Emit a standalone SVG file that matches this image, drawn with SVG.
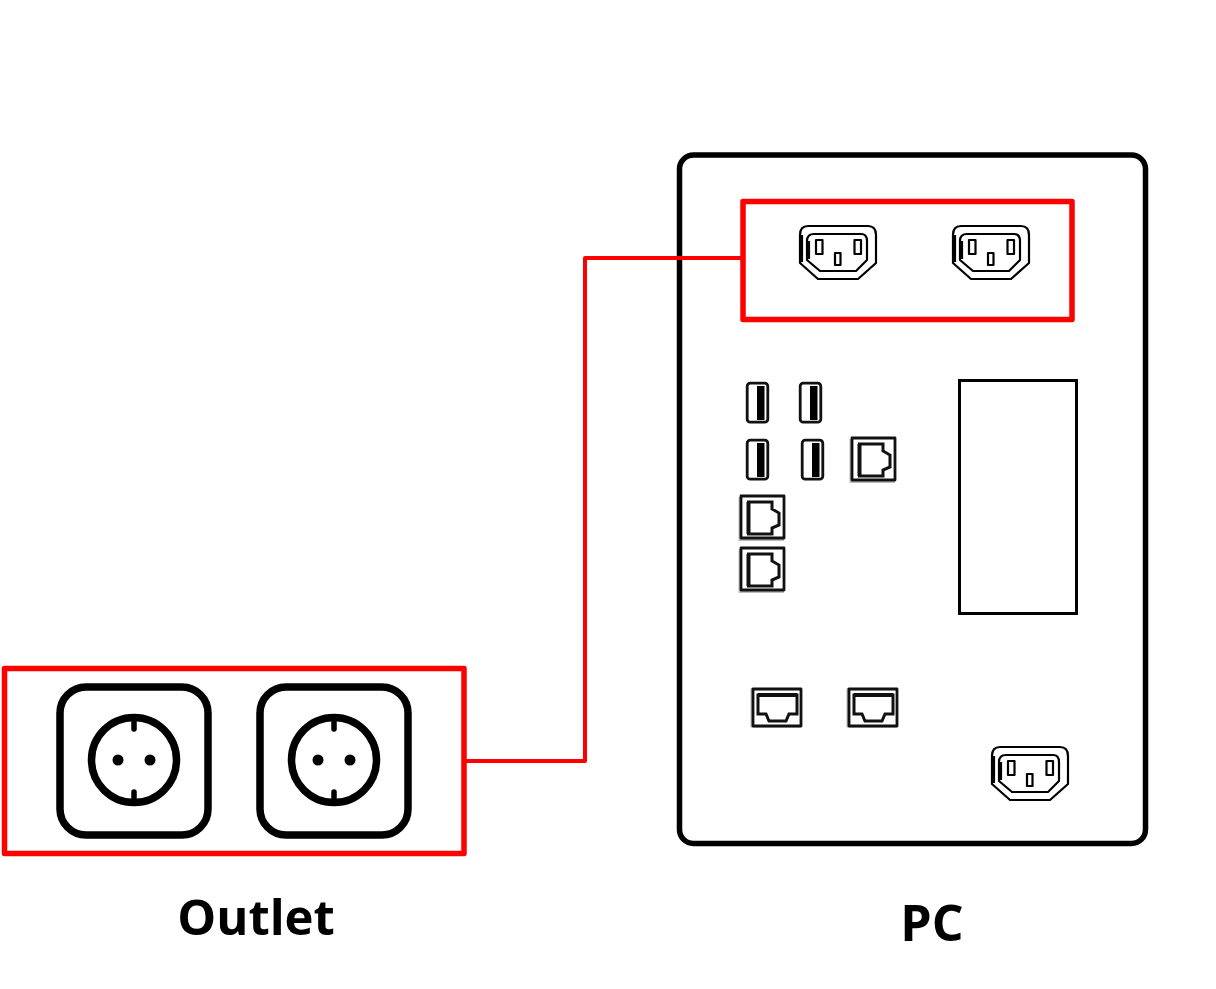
<svg xmlns="http://www.w3.org/2000/svg" width="1216" height="989" viewBox="0 0 1216 989">
<style>
.bg{fill:#fff}
.red{fill:none;stroke:#f00;stroke-width:5.500;stroke-linejoin:round}
.wire{fill:none;stroke:#f00;stroke-width:4;stroke-linejoin:round}
.pc{fill:#fff;stroke:#000;stroke-width:5.500}
.panel{fill:#fff;stroke:#000;stroke-width:3}
.thin{fill:none;stroke:#000;stroke-width:2.200;stroke-linejoin:round}
.frame{fill:none;stroke:#000;stroke-width:7.500}
.ring{fill:none;stroke:#000;stroke-width:7.500}
.tick{stroke:#000;stroke-width:5.500;stroke-linecap:round}
.port{fill:#fff;stroke:#111;stroke-width:2.800;stroke-linejoin:round}
.inner{fill:none;stroke:#111;stroke-width:3;stroke-linejoin:miter}
.shade{fill:#bbb}
.lbl{font-family:"Open Sans","Noto Sans",sans-serif;font-weight:700;font-size:50px;fill:#000;text-anchor:middle}
</style>
<defs>
<g id="iec">
<path class="thin" d="M0,9Q0,0 8,0H68Q76,0 76,9V37L58,53H18L0,37Z"/>
<path class="thin" d="M2,9V36"/>
<path class="thin" d="M7,15Q7,8 14,8H61Q67,8 67,15V34L56,45H20L7,34Z"/>
<path class="thin" d="M9,15V33"/>
<rect class="thin" x="16" y="14" width="6.500" height="14"/>
<rect class="thin" x="54.500" y="14" width="6.500" height="14"/>
<rect class="thin" x="35" y="27" width="5.500" height="12"/>
</g>
<g id="usb">
<rect class="port" x="1.200" y="1.200" width="20.600" height="39" rx="3"/>
<rect x="11" y="4" width="7.500" height="34" fill="#000"/>
</g>
<g id="rjv">
<rect class="shade" x="-1.500" y="1" width="45.500" height="44"/>
<rect class="port" x="1" y="0" width="43" height="42"/>
<path class="inner" d="M8.500,6H32V13L39,17V29L32,32V38H8.500Z"/>
<path d="M8.500,6V38" stroke="#111" stroke-width="4"/>
</g>
<g id="rjh">
<rect class="shade" x="-1.500" y="0" width="50.500" height="39.500"/>
<rect class="port" x="1" y="1" width="48" height="37"/>
<path class="inner" d="M6,7H45V26H37L34,33H17L14,26H6Z"/>
<path d="M6,7H45" stroke="#111" stroke-width="4"/>
</g>
<g id="socket">
<rect class="frame" x="-74" y="-73" width="148" height="148" rx="26"/>
<circle class="ring" cx="0" cy="0" r="42.500"/>
<circle cx="-16" cy="0" r="5.500" fill="#000"/>
<circle cx="16" cy="0" r="5.500" fill="#000"/>
<path class="tick" d="M0,-42V-31M0,32V43"/>
</g>
</defs>
<rect class="bg" width="1216" height="989"/>
<g id="pc-body">
<rect class="pc" x="679.500" y="155" width="466" height="688.500" rx="14"/>
<rect class="panel" x="959.500" y="380.500" width="117" height="233"/>
</g>
<g id="pc-power-top">
<use href="#iec" x="800" y="226"/>
<use href="#iec" x="953" y="226"/>
<rect class="red" x="743" y="201.500" width="329" height="118"/>
</g>
<g id="pc-usb">
<use href="#usb" x="746" y="382"/>
<use href="#usb" x="799" y="382"/>
<use href="#usb" x="746" y="439"/>
<use href="#usb" x="801" y="439"/>
</g>
<g id="pc-lan-vertical">
<use href="#rjv" x="851" y="438"/>
<use href="#rjv" x="740" y="496"/>
<use href="#rjv" x="740" y="548"/>
</g>
<g id="pc-lan-horizontal">
<use href="#rjh" x="752" y="688"/>
<use href="#rjh" x="848" y="688"/>
</g>
<g id="pc-power-bottom">
<use href="#iec" x="992" y="747"/>
</g>
<g id="outlet">
<use href="#socket" x="134" y="760"/>
<use href="#socket" x="334" y="760"/>
<rect class="red" x="4.500" y="668.500" width="459.500" height="185"/>
</g>
<g id="connectors">
<path class="wire" d="M466,761H585V258H741"/>
</g>
<text id="label-outlet" class="lbl" x="256" y="935" style="font-size:49px">Outlet</text>
<text id="label-pc" class="lbl" x="932" y="941">PC</text>
</svg>
